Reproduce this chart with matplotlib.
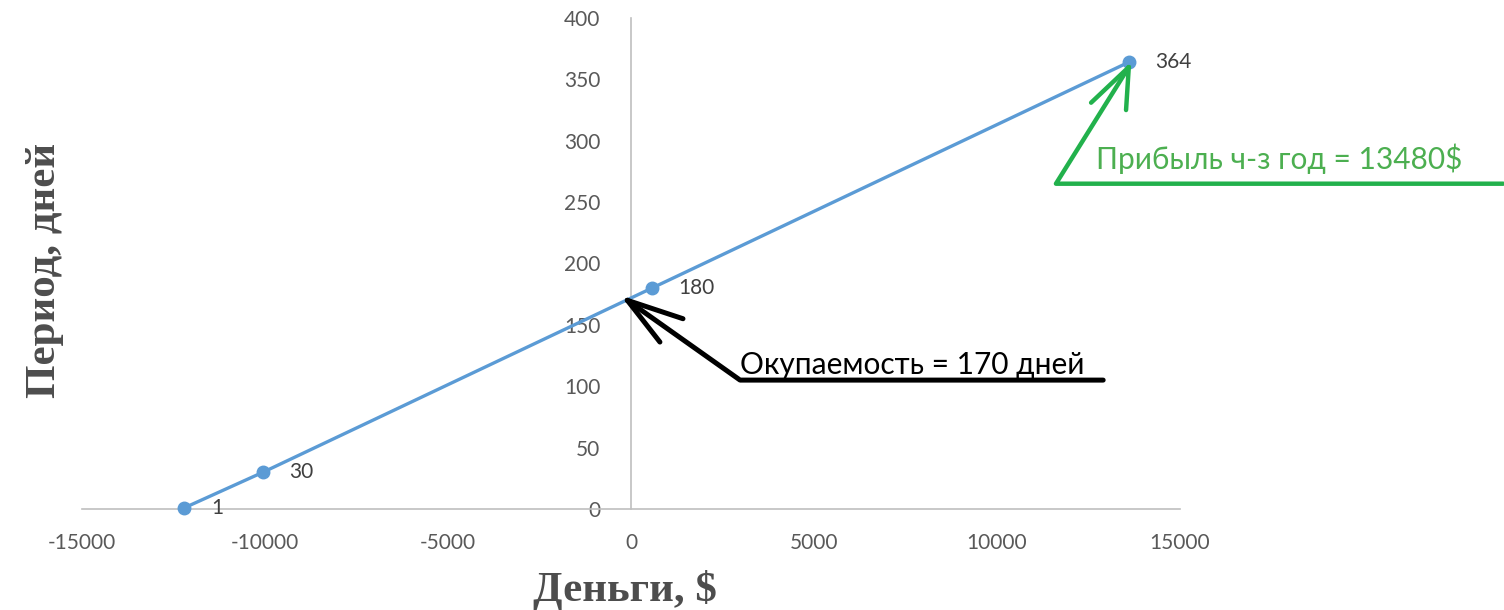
import matplotlib
matplotlib.use("Agg")
import matplotlib.pyplot as plt

# data
money = [-12200, -10050, 575, 13600]
days = [1, 30, 180, 364]
point_labels = ["1", "30", "180", "364"]

x_ticks = [-15000, -10000, -5000, 0, 5000, 10000, 15000]
y_ticks = [0, 50, 100, 150, 200, 250, 300, 350, 400]

payback_days = 170
payback_text = "Окупаемость = 170 дней"
profit_text = "Прибыль ч-з год = 13480$"

sans = ["Lato", "DejaVu Sans"]
serif = ["Liberation Serif", "DejaVu Serif"]

fig = plt.figure(figsize=(15.04, 6.10), dpi=100)
ax = fig.add_axes([0.0545, 0.1656, 0.7301, 0.8049])

# spines first: moving them resets the ticks
for s in ["top", "right"]:
    ax.spines[s].set_visible(False)
ax.spines["left"].set_position(("data", 0))
ax.spines["bottom"].set_position(("data", 0))
for s in ["left", "bottom"]:
    ax.spines[s].set_color("#bfbfbf")
    ax.spines[s].set_linewidth(1.2)

ax.set_xlim(-15000, 15000)
ax.set_ylim(0, 400)
ax.set_xticks(x_ticks)
ax.set_yticks(y_ticks)
ax.set_xticklabels([str(t) for t in x_ticks])
ax.set_yticklabels([str(t) for t in y_ticks])
ax.tick_params(length=0, labelsize=15, labelcolor="#595959", labelfontfamily="Lato")
ax.tick_params(axis="x", pad=17)
ax.tick_params(axis="y", pad=22)

ax.plot(money, days, color="#5b9bd5", lw=2.4, marker="o", ms=9,
        zorder=3, clip_on=False)
for x, y, lab in zip(money, days, point_labels):
    ax.annotate(lab, (x, y), xytext=(19, 0), textcoords="offset points",
                ha="left", va="center", fontsize=15, color="#404040", family=sans)

# hand drawn black arrow to the payback point
blk = dict(color="black", lw=3.6, solid_capstyle="round", clip_on=False, zorder=4)
ax.plot([-100, 2980, 12900], [payback_days, 105, 105], **blk)
ax.plot([-100, 1420], [payback_days, 155], **blk)
ax.plot([-100, 790], [payback_days, 136], **blk)
ax.text(2980, 110, payback_text, ha="left", va="baseline", fontsize=21.5,
        color="black", family=sans)

# hand drawn green arrow to the year-end point
grn = dict(color="#22b14c", lw=3.2, solid_capstyle="round", clip_on=False, zorder=4)
ax.plot([money[-1], 11610, 23830], [360, 265, 265], **grn)
ax.plot([money[-1], 12570], [360, 331], **grn)
ax.plot([money[-1], 13525], [360, 325], **grn)
ax.text(12710, 277, profit_text, ha="left", va="baseline", fontsize=21.5,
        color="#4caf50", family=sans)

fig.text(625 / 1504, 1 - 590 / 610, "Деньги, $", ha="center", va="center",
         family=serif, weight="bold", fontsize=31, color="#4d4d4d")
fig.text(45 / 1504, 1 - 270 / 610, "Период, дней", ha="center", va="center",
         rotation=90, family=serif, weight="bold", fontsize=31, color="#4d4d4d")

fig.savefig("out.png", dpi=100)
